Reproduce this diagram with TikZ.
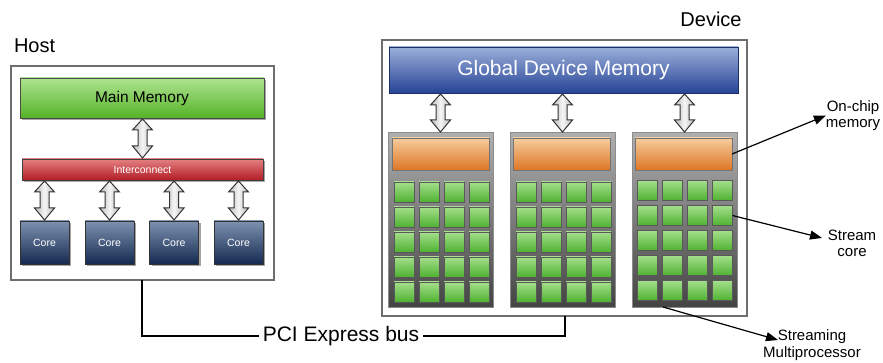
\documentclass[tikz,border=0pt]{standalone}
\usepackage{fontspec}
\setmainfont{Liberation Sans}
\usetikzlibrary{calc,shadows,arrows.meta}
\definecolor{frameg}{RGB}{110,110,110}
\definecolor{mmtop}{RGB}{175,228,145}
\definecolor{mmbot}{RGB}{85,178,40}
\definecolor{ictop}{RGB}{228,128,128}
\definecolor{icbot}{RGB}{178,28,38}
\definecolor{cotop}{RGB}{125,145,175}
\definecolor{cobot}{RGB}{22,42,82}
\definecolor{gmtop}{RGB}{155,175,218}
\definecolor{gmbot}{RGB}{38,68,150}
\definecolor{ortop}{RGB}{246,204,156}
\definecolor{orbot}{RGB}{222,118,38}
\definecolor{smtop}{RGB}{175,175,175}
\definecolor{smbot}{RGB}{68,68,68}
\definecolor{cltop}{RGB}{165,222,140}
\definecolor{clbot}{RGB}{78,178,48}
\tikzset{
  shd/.style={drop shadow={shadow xshift=2pt,shadow yshift=-2pt,fill=black,opacity=0.35}},
  frame/.style={draw=frameg,line width=1.4pt,fill=white},
  mainmem/.style={draw=black!70,line width=0.9pt,top color=mmtop,bottom color=mmbot,shd,font=\fontsize{15.5}{18}\selectfont},
  intercon/.style={draw=black!75,line width=0.9pt,top color=ictop,bottom color=icbot,shd,text=white,font=\fontsize{10.5}{12}\selectfont},
  corebox/.style={draw=black!80,line width=0.9pt,top color=cotop,bottom color=cobot,shd,text=white,font=\fontsize{10.5}{12}\selectfont},
  globmem/.style={draw=gmbot!70!black,line width=0.9pt,top color=gmtop,bottom color=gmbot,text=white,font=\fontsize{21}{24}\selectfont},
  smbox/.style={draw=black!45,line width=1pt,top color=smtop,bottom color=smbot},
  onchip/.style={draw=black!55,line width=0.9pt,top color=ortop,bottom color=orbot},
  cell/.style={draw=black!65,line width=0.6pt,top color=cltop,bottom color=clbot,minimum width=20pt,minimum height=20pt},
  barrow/.style={draw=black!80,line width=1pt,line join=miter,left color=gray!55,right color=gray!55,middle color=gray!8},
  lbl/.style={font=\fontsize{15}{16.5}\selectfont,align=center,inner sep=0pt},
  ptr/.style={line width=1.2pt,-{Triangle[length=12pt,width=9pt]}},
  bus/.style={line width=1.2pt},
  every node/.style={inner sep=0pt,outer sep=0pt}
}
\newcommand\bx[6]{\node[#6,minimum width={(#4-#2)*1pt},minimum height={(#5-#3)*1pt}] (#1) at ({(#2+#4)/2},{(#3+#5)/2}) {};}
\newcommand\blkarrow[2]{%
  \path[barrow] let \p1=(#1.south -| #2.north), \p2=(#2.north) in
   (\x1,\y1-1pt) -- (\x1+10pt,\y1-12pt) -- (\x1+4.5pt,\y1-12pt) -- (\x1+4.5pt,\y2+13pt) -- (\x1+10pt,\y2+13pt) -- (\x1,\y2+1pt)
   -- (\x1-10pt,\y2+13pt) -- (\x1-4.5pt,\y2+13pt) -- (\x1-4.5pt,\y1-12pt) -- (\x1-10pt,\y1-12pt) -- cycle;}
\begin{document}
\begin{tikzpicture}[x=1pt,y=-1pt]
\useasboundingbox (0,0) rectangle (883,363);
% Host
\node[font=\fontsize{20}{24}\selectfont,anchor=base west] (hostlbl) at (14,53) {Host};
\bx{host}{11}{66}{274}{280}{frame}
\node[mainmem,minimum width=244pt,minimum height=40pt] (mm) at (142,98) {Main Memory};
\node[intercon,minimum width=241pt,minimum height=21pt] (ic) at (142.5,169.5) {Interconnect};
\foreach \i/\x in {1/44.5,2/109.5,3/174,4/238.5}{
  \node[corebox,minimum width=49pt,minimum height=43pt] (core\i) at (\x,242.5) {Core};
}
\blkarrow{mm}{ic}
\foreach \i in {1,...,4}{\blkarrow{ic}{core\i}}
% Device
\node[font=\fontsize{20}{24}\selectfont,anchor=base] (devlbl) at (711,27) {Device};
\bx{dev}{382}{40}{747}{316}{frame}
\node[globmem,minimum width=349pt,minimum height=46pt] (gm) at (563.5,70) {Global Device Memory};
\foreach \b/\xa/\xb/\oa/\ob/\cx/\cy in {1/388/493/392/489/394/182, 2/510/615/513/610/516/182, 3/632/737/635/732/637.5/180.5}{
  \bx{sm\b}{\xa}{133}{\xb}{307}{smbox}
  \bx{oc\b}{\oa}{138}{\ob}{170}{onchip}
  \foreach \r in {1,...,5}{
    \foreach \c in {1,...,4}{
      \node[cell] (c\b-\r-\c) at ({\cx+10+(\c-1)*25},{\cy+10+(\r-1)*25}) {};
    }
  }
  \blkarrow{gm}{sm\b}
}
% labels
\node[lbl] (oclbl) at (853,115.5) {On-chip\\memory};
\node[lbl] (sclbl) at (852,243.5) {Stream\\core};
\node[lbl] (smlbl) at (812,345) {Streaming\\Multiprocessor};
\coordinate (sctip) at (822,238);
\coordinate (smtip) at (778,340);
\coordinate (smfrom) at (663,307);
\draw[ptr] (oc3.east) -- (oclbl.west);
\draw[ptr] (c3-2-4.east) -- (sctip);
\draw[ptr] (smfrom) -- (smtip);
% PCI bus
\node[font=\fontsize{21}{24}\selectfont] (pci) at (341,336) {PCI Express bus};
\draw[bus] (host.south -| 142,0) |- ([xshift=-4pt]pci.west);
\draw[bus] ([xshift=4pt]pci.east) -| (dev.south -| 565,0);
\end{tikzpicture}
\end{document}
